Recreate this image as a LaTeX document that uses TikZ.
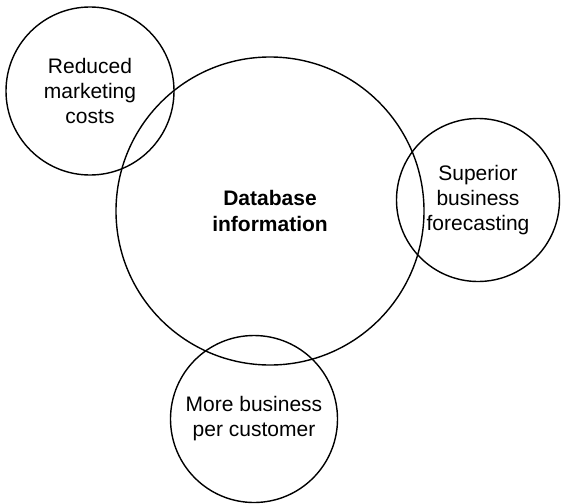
\documentclass[tikz,border=0pt]{standalone}
\usepackage{fontspec}
\setmainfont{Liberation Sans}
\usepackage{tikz}
\tikzset{every node/.append style={execute at begin node={\hyphenpenalty=10000\exhyphenpenalty=10000\relax}}}
\tikzset{bubble/.style={draw,circle,line width=1.4pt,inner sep=0pt,align=center,font=\fontsize{21}{25}\selectfont}}

\begin{document}
\begin{tikzpicture}[x=1pt,y=-1pt]
  \useasboundingbox (0,0) rectangle (561,503);
  \node[bubble,minimum size=308pt,font=\fontsize{21}{26}\selectfont\bfseries] (db) at (270,211) {Database\\ information};
  \node[bubble,minimum size=168pt] (cost) at (90,91) {Reduced\\ marketing\\ costs};
  \node[bubble,minimum size=163pt] (fcst) at (478,200) {Superior\\ business\\ forecasting};
  \node[bubble,minimum size=167pt] (cust) at (254,419) {More business\\ per customer};
\end{tikzpicture}
\end{document}
